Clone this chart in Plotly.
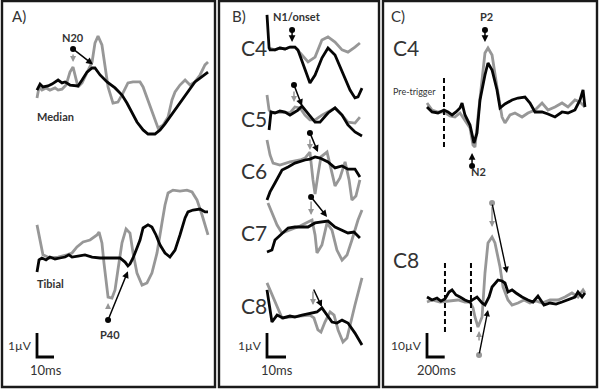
import plotly.graph_objects as go

# ======================= DATA =======================
# Panel A – time (ms) / amplitude (µV); grey = first trace, black = second trace
A_MED_BLACK_T = [0, 1.8, 3.5, 6.5, 8.8, 12.4, 14.7, 16.5, 19.4, 24.1, 26.5, 29.4, 32.4, 34.1, 37.1, 41.2, 45.9, 50.0,
                 52.9, 55.9, 58.8, 62.4, 65.3, 69.4, 72.4, 75.3, 78.2, 81.2, 84.1, 87.1, 90.0, 92.9, 95.9, 98.8, 100.6]
A_MED_BLACK_V = [-0.17, 0.08, -0.04, 0, 0.08, 0.25, 0.13, 0.17, 0.04, 0, 0.25, 0.58, 0.75, 0.75, 0.46, 0.17, -0.08, -0.38,
                 -0.71, -1.08, -1.5, -1.83, -2.0, -2.0, -1.83, -1.58, -1.29, -1.0, -0.71, -0.38, -0.08, 0.17, 0.33, 0.5, 0.58]
A_MED_GREY_T = [0, 1.2, 2.9, 5.3, 7.6, 10.6, 12.4, 14.7, 17.1, 19.4, 21.2, 22.9, 24.1, 26.5, 29.4, 32.4, 34.1, 35.9,
                38.2, 40.0, 41.8, 44.7, 47.6, 50.6, 53.5, 56.5, 60.6, 62.4, 65.3, 68.2, 71.2, 74.1, 77.1, 79.4, 81.2,
                84.1, 87.1, 90.0, 92.9, 95.9, 98.8, 100.6]
A_MED_GREY_V = [-0.5, -0.04, -0.17, -0.08, -0.17, -0.08, -0.17, -0.13, 0.04, 0.58, 0.79, 0.25, -0.04, 0.13, 0.58, 1.0,
                1.79, 2.08, 1.71, 0.88, -0.04, -0.71, -0.67, -0.29, 0.13, 0.17, 0.17, -0.04, -0.58, -1.13, -1.75, -1.63,
                -1.29, -0.58, -0.25, 0.04, 0.25, 0.04, 0.17, 0.46, 0.88, 1.0]
A_TIB_BLACK_T = [0, 1.2, 2.9, 5.3, 7.6, 10.6, 13.5, 16.5, 18.8, 20.6, 24.1, 28.2, 32.4, 37.1, 42.9, 48.8, 51.8, 53.5,
                 54.7, 56.5, 58.8, 60.6, 62.4, 65.3, 67.6, 70.0, 72.4, 75.3, 78.2, 81.2, 84.1, 87.1, 88.8, 91.8, 95.9,
                 98.8, 100.6]
A_TIB_BLACK_V = [-0.58, -0.08, 0, -0.08, 0.04, -0.04, 0, 0.04, 0.13, 0.04, 0.08, 0.13, 0.04, 0, 0, 0, -0.17, -0.33,
                 -0.25, 0, 0.42, 0.75, 1.25, 1.38, 1.29, 0.96, 0.54, 0.21, 0.04, 0.33, 0.96, 1.67, 1.92, 2.0, 2.04,
                 1.92, 1.92]
A_TIB_GREY_T = [0, 1.8, 3.5, 7.6, 12.4, 17.6, 20.6, 23.5, 27.1, 31.2, 35.3, 36.5, 38.2, 39.4, 40.6, 41.8, 44.1, 45.9,
                47.6, 50.0, 52.4, 54.7, 56.5, 58.8, 61.8, 64.7, 67.6, 70.6, 73.5, 75.3, 77.1, 80.0, 84.1, 88.2, 91.2,
                94.1, 97.1, 100.6]
A_TIB_GREY_V = [1.38, 0.75, 0.13, 0, 0.04, 0.13, 0.21, 0.46, 0.67, 0.75, 0.96, 1.08, 0.63, -0.21, -1.04, -1.63, -1.67,
                -1.33, -0.5, 0.63, 1.21, 1.04, 0.21, -0.63, -1.13, -1.04, -0.63, 0.21, 1.46, 2.21, 2.71, 2.83, 2.79,
                2.83, 2.75, 2.42, 1.79, 0.96]

# Panel B – time (ms) / amplitude (µV)
B_C4_BLACK_T = [0, 1.1, 1.6, 4.2, 6.8, 9.5, 12.1, 14.7, 16.3, 18.4, 20.5, 22.6, 25.3, 28.9, 32.1, 35.8, 40.0, 43.7,
                46.3, 47.9, 50.0]
B_C4_BLACK_V = [1.38, 0, -0.08, -0.08, 0, -0.04, 0.04, 0.04, -0.08, -0.5, -1.0, -1.46, -1.13, -0.42, 0, -0.29, -1.04,
                -1.75, -2.08, -2.04, -1.67]
B_C4_GREY_T = [1.1, 4.2, 6.8, 9.5, 12.1, 14.7, 18.4, 21.6, 25.3, 28.9, 32.1, 35.8, 39.5, 42.6, 46.3, 48.9]
B_C4_GREY_V = [0, -0.08, 0, -0.04, 0.04, 0.04, -0.29, -0.58, -0.38, 0.33, 0.46, 0.25, -0.08, -0.17, 0.04, 0.21]
B_C5_BLACK_T = [1.1, 2.1, 4.2, 6.8, 9.5, 12.1, 14.7, 16.3, 18.4, 21.6, 25.3, 27.9, 32.1, 35.8, 39.5, 42.6, 46.3, 50.0]
B_C5_BLACK_V = [-0.75, 0, -0.04, 0.04, 0, -0.13, 0, 0.08, 0.25, -0.04, -0.42, -0.42, -0.04, 0.17, -0.13, -0.54, -0.83,
                -1.0]
B_C5_GREY_T = [0, 1.1, 2.6, 6.8, 12.1, 14.7, 17.4, 20.0, 22.6, 25.3, 28.9, 32.1, 35.8, 39.5, 42.6, 46.3, 48.9]
B_C5_GREY_V = [0.71, 0.08, -0.04, 0, -0.04, 0.21, 0.17, -0.13, -0.33, -0.33, -0.13, 0, 0.17, -0.13, -0.42, -0.46, -0.21]
B_C6_BLACK_T = [0, 1.6, 4.2, 7.9, 11.1, 14.7, 20.0, 22.6, 25.3, 27.9, 32.1, 35.8, 39.5, 42.6, 46.3, 48.9]
B_C6_BLACK_V = [-1.67, -1.33, -0.96, -0.42, -0.29, -0.13, 0, 0.04, 0.13, 0.08, -0.08, -0.33, -0.25, -0.38, -0.38, -0.71]
B_C6_GREY_T = [0, 1.6, 3.2, 6.8, 12.1, 17.4, 20.0, 22.6, 24.2, 25.3, 26.8, 28.4, 31.6, 34.2, 35.8, 38.4, 41.1, 43.2,
               44.7, 46.8, 48.9]
B_C6_GREY_V = [0.83, 0.21, -0.13, -0.21, -0.08, 0, 0.08, 0.33, -0.83, -1.42, -0.63, 0.13, 0.33, -0.5, -1.08, -0.75,
               -0.08, -0.83, -1.67, -1.5, -0.83]
B_C7_BLACK_T = [0, 2.6, 4.2, 7.9, 11.1, 14.7, 18.4, 21.6, 25.3, 28.9, 32.1, 35.8, 39.5, 42.6, 45.8, 48.9]
B_C7_BLACK_V = [-1.04, -0.96, -0.54, -0.25, -0.04, 0, 0, 0, 0.17, 0.21, 0.25, 0, -0.13, -0.25, -0.21, -0.46]
B_C7_GREY_T = [0.5, 2.6, 5.3, 7.9, 12.1, 17.4, 21.6, 23.7, 25.3, 26.3, 28.9, 31.6, 34.2, 36.8, 39.5, 42.1, 44.7, 47.9, 50]
B_C7_GREY_V = [1.0, 0.58, 0.08, -0.25, -0.13, 0.04, 0.21, 0.29, -0.33, -1.08, -0.75, 0.17, -0.13, -0.96, -1.38, -1.17,
               -0.54, 0.29, 0.71]
B_C8_BLACK_T = [0, 1.6, 2.6, 5.3, 8.4, 12.1, 14.7, 18.4, 21.6, 23.7, 26.3, 28.9, 31.6, 34.2, 36.8, 39.5, 42.6, 46.3, 50]
B_C8_BLACK_V = [1.13, 0.29, -0.21, 0.08, -0.04, 0.04, 0, 0.08, 0.13, 0.17, 0.21, 0.38, 0.08, -0.21, -0.25, -0.13, -0.25,
                -0.67, -1.17]
B_C8_GREY_T = [0, 2.6, 5.3, 7.9, 12.1, 17.4, 22.6, 24.7, 26.8, 28.4, 30.5, 33.2, 35.3, 37.4, 40.0, 42.1, 43.7, 46.3, 50]
B_C8_GREY_V = [1.42, 0.92, 0.38, -0.04, 0, 0.04, 0.08, -0.04, -0.54, -0.63, -0.21, 0.21, 0.08, -0.54, -1.04, -0.88,
               -0.33, 0.5, 1.63]

# Panel C – time (ms) / amplitude (µV)
C_C4_BLACK_T = [0, 57, 124, 192, 237, 283, 328, 373, 396, 429, 486, 531, 565, 599, 655, 689, 735, 791, 825, 881, 961,
                1028, 1107, 1164, 1220, 1300, 1367, 1446, 1526, 1593, 1672, 1729, 1763, 1785]
C_C4_BLACK_V = [1.25, -0.83, -1.25, 0, -0.83, -2.08, -0.83, 0.83, 2.92, -2.08, -6.25, -13.75, -9.58, 4.17, 14.58, 19.58,
                16.67, 8.33, 0.83, 2.5, 4.17, 5.0, 5.42, 2.92, -0.83, -0.83, -1.67, -2.92, -0.83, -1.25, 0, 4.17, 8.33,
                1.25]
C_C4_GREY_T = [0, 57, 124, 192, 260, 316, 373, 429, 486, 520, 542, 576, 622, 655, 689, 735, 791, 848, 881, 938, 994,
               1074, 1141, 1220, 1300, 1367, 1446, 1526, 1593, 1672, 1729, 1785]
C_C4_GREY_V = [2.92, 0, -0.83, -0.83, -2.5, -2.92, -1.25, -4.17, -7.5, -14.58, -15.42, -2.92, 11.25, 23.75, 25.83, 22.92,
               9.58, -2.92, -5.42, -2.08, -1.25, -2.92, -1.25, 0, 2.92, 0, 1.25, 2.92, 1.25, 4.17, 3.33, 1.25]
C_C8_BLACK_T = [0, 57, 113, 158, 203, 249, 283, 328, 373, 429, 486, 509, 565, 622, 655, 701, 735, 780, 802, 848, 881,
                915, 961, 1006, 1074, 1141, 1198, 1254, 1322, 1390, 1458, 1526, 1593, 1672, 1706, 1752, 1785]
C_C8_BLACK_V = [1.25, 0, 0.83, -0.42, 0.42, 3.33, 4.17, 2.08, 1.25, 0, -0.83, 0, 1.25, -1.25, -2.08, 1.25, 5.42, 7.5,
                8.33, 7.92, 7.08, 3.33, 4.17, 2.92, 1.25, 0, -0.83, 1.67, -2.08, -1.25, -1.67, -0.83, 0, 1.25, 3.33,
                1.25, 2.92]
C_C8_GREY_T = [0, 57, 147, 260, 350, 429, 486, 520, 542, 576, 622, 655, 689, 735, 768, 825, 859, 915, 961, 1028, 1096,
               1164, 1232, 1300, 1390, 1480, 1559, 1638, 1706, 1763, 1785]
C_C8_GREY_V = [-0.83, 0, -0.83, -0.42, 0, -0.83, -0.83, -3.33, -7.08, -11.25, -7.08, 11.25, 23.75, 26.25, 23.75, 13.75,
               5.42, 0, -2.08, -1.25, 0, -1.25, -0.42, -1.25, 0, 0, 1.25, 2.92, 1.25, 4.17, 2.92]

# Trigger times (ms) for dashed markers in panel C
C_C4_TRIGGERS = [192]
C_C8_TRIGGERS = [203, 497]

# Peak markers: (panel, row, t_dot, v_dot, t_head, v_head, dot shown, grey arrow (t, v_from, v_to) or None)
PEAK_MARKERS = [
    ('A', 'Median', 21.2, 1.54, 32.9, 0.9, True, (21.2, 1.38, 1.0)),
    ('A', 'Tibial', 41.8, -2.58, 53.5, -0.55, True, (41.8, -2.17, -1.88)),
    ('B', 'C4', 13.2, 0.75, 13.2, 0.25, True, None),
    ('B', 'C5', 14.2, 1.13, 18.4, 0.25, True, (14.2, 0.92, 0.42)),
    ('B', 'C6', 22.6, 1.13, 26.8, 0.33, True, (22.6, 0.92, 0.42)),
    ('B', 'C7', 23.2, 1.25, 31.6, 0.42, True, (23.2, 1.13, 0.5)),
    ('B', 'C8', 24.2, 1.21, 28.9, 0.42, False, (24.2, 1.13, 0.5)),
    ('C', 'C4', 655, 33.3, 655, 28.3, True, None),
    ('C', 'C4', 509, -23.3, 509, -17.9, True, None),
]
# Panel C / C8 markers with grey dots
C8_GREY_MARKERS = [(735, 40.4, 904, 11.25, 735, 39.6, 30.4),
                   (588, -22.9, 689, -4.17, 588, -17.5, -12.9)]

# Scale bars: (time length ms, amplitude µV, time label, amp label)
SCALES = {'A': (10, 1, '10ms', '1µV'), 'B': (10, 1, '10ms', '1µV'), 'C': (200, 10, '200ms', '10µV')}

# ======================= LAYOUT GEOMETRY (pixels) =======================
W, H = 600, 390
GEOM = {
    'A': dict(box=(2, 215, 1, 387), t0px=37, pxms=1.7, v0px=86, pxuv=24, ax=''),
    'B': dict(box=(219, 379, 1, 387), t0px=267, pxms=1.9, v0px=48, pxuv=24, ax='2'),
    'C': dict(box=(383, 597, 1, 387), t0px=427, pxms=0.0885, v0px=110, pxuv=2.4, ax='3'),
}
ROW_BASE_PX = {
    'A': {'Median': 86, 'Tibial': 258},
    'B': {'C4': 48, 'C5': 112, 'C6': 160, 'C7': 227, 'C8': 317},
    'C': {'C4': 110, 'C8': 300},
}
SCALE_BAR_PX = (333, 357)  # top, bottom of amplitude bar
GREY = '#979797'
BLACK = '#050505'
TXT = '#333333'
FONT = 'Lato'
LW = 2.8


def off(p, row):
    g = GEOM[p]
    return (g['v0px'] - ROW_BASE_PX[p][row]) / g['pxuv']


def refs(p):
    a = GEOM[p]['ax']
    return 'x' + a, 'y' + a


fig = go.Figure()


def add_line(p, row, t, v, color, width=LW):
    xr, yr = refs(p)
    o = off(p, row)
    fig.add_trace(go.Scatter(x=t, y=[vi + o for vi in v], mode='lines', xaxis=xr, yaxis=yr,
                             line=dict(color=color, width=width), hoverinfo='skip'))


traces = [
    ('A', 'Median', A_MED_GREY_T, A_MED_GREY_V, A_MED_BLACK_T, A_MED_BLACK_V),
    ('A', 'Tibial', A_TIB_GREY_T, A_TIB_GREY_V, A_TIB_BLACK_T, A_TIB_BLACK_V),
    ('B', 'C4', B_C4_GREY_T, B_C4_GREY_V, B_C4_BLACK_T, B_C4_BLACK_V),
    ('B', 'C5', B_C5_GREY_T, B_C5_GREY_V, B_C5_BLACK_T, B_C5_BLACK_V),
    ('B', 'C6', B_C6_GREY_T, B_C6_GREY_V, B_C6_BLACK_T, B_C6_BLACK_V),
    ('B', 'C7', B_C7_GREY_T, B_C7_GREY_V, B_C7_BLACK_T, B_C7_BLACK_V),
    ('B', 'C8', B_C8_GREY_T, B_C8_GREY_V, B_C8_BLACK_T, B_C8_BLACK_V),
    ('C', 'C4', C_C4_GREY_T, C_C4_GREY_V, C_C4_BLACK_T, C_C4_BLACK_V),
    ('C', 'C8', C_C8_GREY_T, C_C8_GREY_V, C_C8_BLACK_T, C_C8_BLACK_V),
]
for p, row, gt, gv, bt, bv in traces:
    add_line(p, row, gt, gv, GREY)
for p, row, gt, gv, bt, bv in traces:
    add_line(p, row, bt, bv, BLACK)

# dashed trigger lines
for row, trig, span in (('C4', C_C4_TRIGGERS, (13.3, -15.4)), ('C8', C_C8_TRIGGERS, (15.4, -13.75))):
    o = off('C', row)
    for tt in trig:
        fig.add_trace(go.Scatter(x=[tt, tt], y=[span[0] + o, span[1] + o], mode='lines', xaxis='x3', yaxis='y3',
                                 line=dict(color=BLACK, width=2, dash='5px,3px'), hoverinfo='skip'))

annotations = []


def arrow(p, x, y, axx, ayy, color, width=1.4, size=1.0):
    xr, yr = refs(p)
    annotations.append(dict(x=x, y=y, ax=axx, ay=ayy, xref=xr, yref=yr, axref=xr, ayref=yr, text='',
                            showarrow=True, arrowhead=2, arrowsize=size, arrowwidth=width, arrowcolor=color,
                            standoff=0, startstandoff=0))


for p, row, td, vd, th, vh, dot, grey in PEAK_MARKERS:
    o = off(p, row)
    xr, yr = refs(p)
    if grey:
        arrow(p, grey[0], grey[2] + o, grey[0], grey[1] + o, GREY, 1.5, 0.8)
    arrow(p, th, vh + o, td, vd + o, BLACK, 1.5, 0.9)
    if dot:
        fig.add_trace(go.Scatter(x=[td], y=[vd + o], mode='markers', xaxis=xr, yaxis=yr,
                                 marker=dict(color=BLACK, size=6), hoverinfo='skip'))

o8 = off('C', 'C8')
for td, vd, th, vh, tg, vg0, vg1 in C8_GREY_MARKERS:
    arrow('C', tg, vg1 + o8, tg, vg0 + o8, GREY, 1.5, 0.8)
    arrow('C', th, vh + o8, td, vd + o8, BLACK, 1.4, 0.9)
    fig.add_trace(go.Scatter(x=[td], y=[vd + o8], mode='markers', xaxis='x3', yaxis='y3',
                             marker=dict(color=GREY, size=6), hoverinfo='skip'))

# scale bars
for p, (tl, al, tlab, alab) in SCALES.items():
    g = GEOM[p]
    xr, yr = refs(p)
    ybot = (g['v0px'] - SCALE_BAR_PX[1]) / g['pxuv']
    fig.add_trace(go.Scatter(x=[0, 0, tl], y=[ybot + al, ybot, ybot], mode='lines', xaxis=xr, yaxis=yr,
                             line=dict(color=BLACK, width=LW), hoverinfo='skip'))
    annotations.append(dict(x=tl / 2 + tl * 0.02, y=ybot, xref=xr, yref=yr, text=tlab, showarrow=False,
                            yanchor='top', yshift=-3, font=dict(family=FONT, size=13, color=TXT)))
    annotations.append(dict(x=0, y=ybot + al / 2, xref=xr, yref=yr, text=alab, showarrow=False,
                            xanchor='right', xshift=-3, font=dict(family=FONT, size=12, color=TXT)))


def ptext(xpx, ypx, text, size, anchor='center', color=TXT):
    annotations.append(dict(x=xpx / W, y=1 - ypx / H, xref='paper', yref='paper', text=text, showarrow=False,
                            xanchor=anchor, yanchor='middle', font=dict(family=FONT, size=size, color=color)))


ptext(19, 16, 'A)', 15)
ptext(239, 16, 'B)', 15)
ptext(398, 16, 'C)', 15)
ptext(73, 37, '<b>N20</b>', 11)
ptext(35, 116, '<b>Median</b>', 11, 'left')
ptext(35, 283, '<b>Tibial</b>', 11, 'left')
ptext(110, 334, '<b>P40</b>', 11)
ptext(297, 17, '<b>N1/onset</b>', 11)
for lab, ypx in (('C4', 47), ('C5', 118), ('C6', 170), ('C7', 232), ('C8', 305)):
    ptext(239, ypx, lab, 21, 'left')
ptext(391, 47, 'C4', 21, 'left')
ptext(391, 259, 'C8', 21, 'left')
ptext(486, 17, '<b>P2</b>', 11)
ptext(478, 171, '<b>N2</b>', 11)
ptext(391, 91, 'Pre-trigger', 9, 'left')

shapes = []
for p, g in GEOM.items():
    l, r, t, b = g['box']
    shapes.append(dict(type='rect', xref='paper', yref='paper', x0=l / W, x1=r / W, y0=1 - b / H, y1=1 - t / H,
                       line=dict(color='#1a1a1a', width=2.4), fillcolor='rgba(0,0,0,0)'))

layout = dict(width=W, height=H, margin=dict(l=0, r=0, t=0, b=0), paper_bgcolor='white', plot_bgcolor='white',
              showlegend=False, annotations=annotations, shapes=shapes)
for p, g in GEOM.items():
    l, r, t, b = g['box']
    a = g['ax']
    layout['xaxis' + a] = dict(domain=[l / W, r / W], range=[(l - g['t0px']) / g['pxms'], (r - g['t0px']) / g['pxms']],
                               visible=False, fixedrange=True, anchor='y' + a)
    layout['yaxis' + a] = dict(domain=[1 - b / H, 1 - t / H],
                               range=[(g['v0px'] - b) / g['pxuv'], (g['v0px'] - t) / g['pxuv']],
                               visible=False, fixedrange=True, anchor='x' + a)
fig.update_layout(**layout)
fig.write_html('out.html', config={'displayModeBar': False},
               post_script="document.body.style.margin='0px';document.body.style.overflow='hidden';")
